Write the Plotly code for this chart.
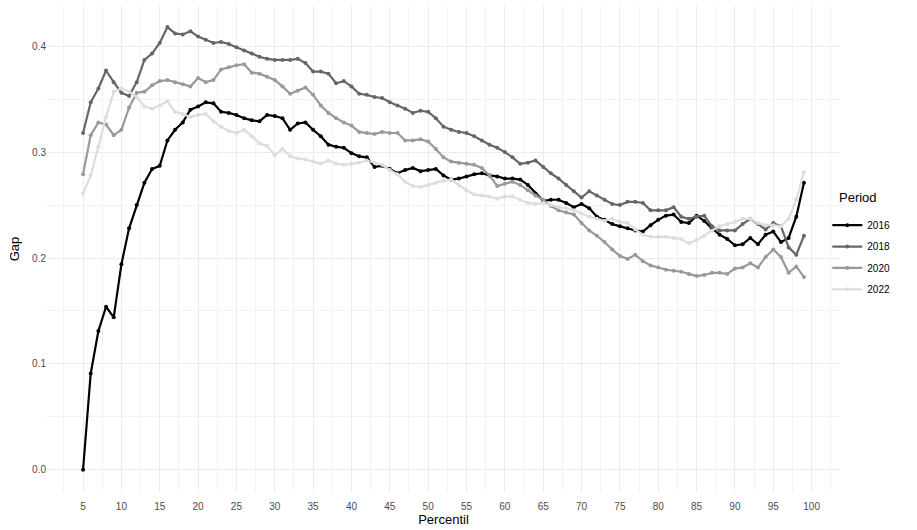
import plotly.graph_objects as go

percentil = list(range(5, 100))

gap_2016 = [0.000, 0.091, 0.131, 0.154, 0.144, 0.194, 0.228, 0.250, 0.271, 0.284,
            0.287, 0.311, 0.321, 0.328, 0.340, 0.343, 0.347, 0.346, 0.338, 0.337,
            0.335, 0.332, 0.330, 0.329, 0.335, 0.334, 0.332, 0.321, 0.327, 0.328,
            0.321, 0.315, 0.307, 0.305, 0.304, 0.299, 0.296, 0.295, 0.286, 0.287,
            0.284, 0.280, 0.283, 0.285, 0.282, 0.283, 0.284, 0.278, 0.274, 0.275,
            0.277, 0.279, 0.280, 0.278, 0.277, 0.275, 0.275, 0.274, 0.269, 0.261,
            0.254, 0.255, 0.255, 0.252, 0.248, 0.251, 0.247, 0.239, 0.236, 0.232,
            0.230, 0.228, 0.226, 0.225, 0.231, 0.236, 0.240, 0.241, 0.234, 0.233,
            0.240, 0.235, 0.228, 0.222, 0.218, 0.212, 0.213, 0.219, 0.213, 0.222,
            0.225, 0.215, 0.219, 0.239, 0.271]

gap_2018 = [0.318, 0.347, 0.360, 0.377, 0.366, 0.356, 0.353, 0.366, 0.387, 0.393,
            0.403, 0.418, 0.412, 0.411, 0.414, 0.409, 0.406, 0.403, 0.404, 0.402,
            0.399, 0.396, 0.393, 0.390, 0.388, 0.387, 0.387, 0.387, 0.388, 0.384,
            0.376, 0.376, 0.374, 0.365, 0.367, 0.362, 0.355, 0.354, 0.352, 0.351,
            0.347, 0.344, 0.341, 0.337, 0.339, 0.338, 0.332, 0.324, 0.321, 0.319,
            0.318, 0.315, 0.311, 0.307, 0.304, 0.300, 0.295, 0.289, 0.290, 0.292,
            0.286, 0.280, 0.275, 0.269, 0.263, 0.257, 0.263, 0.259, 0.255, 0.251,
            0.250, 0.253, 0.253, 0.252, 0.245, 0.245, 0.245, 0.248, 0.239, 0.237,
            0.239, 0.240, 0.230, 0.226, 0.226, 0.226, 0.232, 0.237, 0.232, 0.227,
            0.233, 0.230, 0.210, 0.203, 0.221]

gap_2020 = [0.279, 0.316, 0.328, 0.326, 0.316, 0.321, 0.342, 0.356, 0.357, 0.363,
            0.367, 0.368, 0.366, 0.364, 0.362, 0.370, 0.366, 0.368, 0.378, 0.380,
            0.382, 0.383, 0.375, 0.374, 0.371, 0.368, 0.362, 0.355, 0.358, 0.361,
            0.354, 0.344, 0.337, 0.332, 0.328, 0.325, 0.319, 0.318, 0.317, 0.319,
            0.318, 0.318, 0.311, 0.311, 0.312, 0.310, 0.303, 0.295, 0.291, 0.290,
            0.289, 0.288, 0.285, 0.278, 0.268, 0.270, 0.272, 0.269, 0.264, 0.259,
            0.255, 0.249, 0.245, 0.243, 0.241, 0.233, 0.226, 0.221, 0.215, 0.208,
            0.202, 0.199, 0.203, 0.197, 0.193, 0.191, 0.189, 0.188, 0.187, 0.185,
            0.183, 0.184, 0.186, 0.186, 0.185, 0.190, 0.191, 0.195, 0.191, 0.201,
            0.208, 0.201, 0.186, 0.192, 0.182]

gap_2022 = [0.261, 0.278, 0.305, 0.333, 0.357, 0.360, 0.357, 0.352, 0.343, 0.341,
            0.344, 0.348, 0.338, 0.336, 0.333, 0.335, 0.336, 0.329, 0.324, 0.320,
            0.318, 0.321, 0.315, 0.308, 0.306, 0.297, 0.303, 0.296, 0.294, 0.293,
            0.291, 0.289, 0.292, 0.289, 0.288, 0.289, 0.290, 0.292, 0.290, 0.288,
            0.283, 0.279, 0.272, 0.268, 0.267, 0.269, 0.271, 0.273, 0.274, 0.269,
            0.264, 0.260, 0.259, 0.258, 0.256, 0.258, 0.258, 0.255, 0.252, 0.251,
            0.252, 0.250, 0.248, 0.247, 0.245, 0.242, 0.239, 0.237, 0.235, 0.237,
            0.234, 0.233, 0.227, 0.222, 0.220, 0.220, 0.220, 0.219, 0.218, 0.214,
            0.217, 0.221, 0.226, 0.230, 0.232, 0.234, 0.237, 0.237, 0.233, 0.231,
            0.231, 0.230, 0.237, 0.255, 0.281]

periods = ["2016", "2018", "2020", "2022"]
series = [gap_2016, gap_2018, gap_2020, gap_2022]
colors = ["#000000", "#666666", "#999999", "#dddddd"]

x_ticks = list(range(5, 101, 5))
x_minor = [v + 2.5 for v in range(0, 101, 5)]
y_ticks = [0.0, 0.1, 0.2, 0.3, 0.4]
y_minor = [0.05, 0.15, 0.25, 0.35]

# one legend box per period, stacked under the "Period" title
legend_ids = ["legend", "legend2", "legend3", "legend4"]
legend_y = [0.549, 0.505, 0.461, 0.417]

fig = go.Figure()
for name, vals, col, lid in zip(periods, series, colors, legend_ids):
    fig.add_trace(go.Scatter(
        x=percentil, y=vals, name=name, mode="lines+markers",
        line=dict(color=col, width=2.2),
        marker=dict(color=col, size=4),
        legend=lid,
    ))

font_family = "Liberation Sans, Arial, sans-serif"
legend_boxes = {}
for lid, ly in zip(legend_ids, legend_y):
    legend_boxes[lid] = dict(
        font=dict(size=10, color="#000000", family=font_family),
        x=0.984, xanchor="left", y=ly, yanchor="middle",
        bgcolor="rgba(0,0,0,0)", itemwidth=30,
    )

fig.update_layout(
    width=917, height=530,
    margin=dict(l=47, r=77, t=6, b=38, autoexpand=False),
    paper_bgcolor="white", plot_bgcolor="white",
    font=dict(family=font_family, color="#4d4d4d", size=10),
    showlegend=True,
    **legend_boxes,
    annotations=[dict(
        text="Period", xref="paper", yref="paper", x=0.9965, y=0.605,
        xanchor="left", yanchor="middle", showarrow=False,
        font=dict(size=13, color="#000000", family=font_family),
    )],
    xaxis=dict(
        range=[0.3, 103.7], tickmode="array", tickvals=x_ticks,
        ticktext=[str(v) for v in x_ticks],
        showgrid=True, gridcolor="#ebebeb", gridwidth=1,
        zeroline=False, showline=False, ticks="", automargin=False,
        ticklabelstandoff=7,
        tickfont=dict(size=10, color="#4d4d4d"),
        title=dict(text="Percentil", font=dict(size=13, color="#000000"), standoff=0),
        minor=dict(tickmode="array", tickvals=x_minor, showgrid=True,
                   gridcolor="#f3f3f3", gridwidth=1),
    ),
    yaxis=dict(
        range=[-0.0209, 0.4379], tickmode="array", tickvals=y_ticks,
        ticktext=["0.0", "0.1", "0.2", "0.3", "0.4"],
        showgrid=True, gridcolor="#ebebeb", gridwidth=1,
        zeroline=False, showline=False, ticks="", automargin=False,
        tickfont=dict(size=10, color="#4d4d4d"),
        title=dict(text="Gap", font=dict(size=13, color="#000000"), standoff=9),
        minor=dict(tickmode="array", tickvals=y_minor, showgrid=True,
                   gridcolor="#f3f3f3", gridwidth=1),
    ),
)

fig.write_html("out.html")
